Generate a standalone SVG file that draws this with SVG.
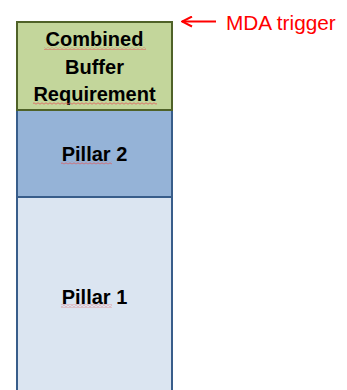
<svg xmlns="http://www.w3.org/2000/svg" width="347" height="390" viewBox="0 0 347 390">
<defs>
<style>
.lbl{font-family:"Liberation Sans",Arial,sans-serif;font-weight:bold;font-size:20px;fill:#000;text-anchor:middle}
.red{font-family:"Liberation Sans",Arial,sans-serif;font-size:20.8px;fill:#ff0000}
.blue{stroke:#385d8a;stroke-width:2}
</style>
<pattern id="wave" x="0" y="0" width="4" height="3" patternUnits="userSpaceOnUse">
<path d="M0 2.2 L2 0.8 L4 2.2" fill="none" stroke="#e05a5a" stroke-width="0.8"/>
</pattern>
<marker id="ah" viewBox="0 0 12 12" refX="11" refY="6" markerWidth="12" markerHeight="12" markerUnits="userSpaceOnUse" orient="auto">
<path d="M1 1 L11 6 L1 11" fill="none" stroke="#ff0000" stroke-width="2"/>
</marker>
</defs>
<rect width="347" height="390" fill="#ffffff"/>
<g id="pillar1">
<rect x="17" y="197" width="155" height="200" fill="#dbe5f1" class="blue"/>
<text class="lbl" x="94.5" y="304">Pillar 1</text>
<rect x="61" y="304.5" width="51" height="3" fill="url(#wave)"/>
</g>
<g id="pillar2">
<rect x="17" y="110" width="155" height="87" fill="#95b3d7" class="blue"/>
<text class="lbl" x="94.5" y="161">Pillar 2</text>
<rect x="61" y="161.5" width="51" height="3" fill="url(#wave)"/>
</g>
<g id="combined">
<rect x="17" y="22" width="155" height="88" fill="#c3d69b" stroke="#4f6228" stroke-width="2"/>
<text class="lbl" x="94.5" y="46">Combined</text>
<text class="lbl" x="94.5" y="73.5">Buffer</text>
<text class="lbl" x="94.5" y="101">Requirement</text>
<rect x="44" y="47" width="102" height="3" fill="url(#wave)"/>
<rect x="33" y="102" width="124" height="3" fill="url(#wave)"/>
</g>
<g id="connectors">
<line x1="216" y1="21.5" x2="182" y2="21.5" stroke="#ff0000" stroke-width="2" marker-end="url(#ah)"/>
</g>
<g id="mda">
<text class="red" x="226" y="29.5">MDA trigger</text>
</g>
</svg>
